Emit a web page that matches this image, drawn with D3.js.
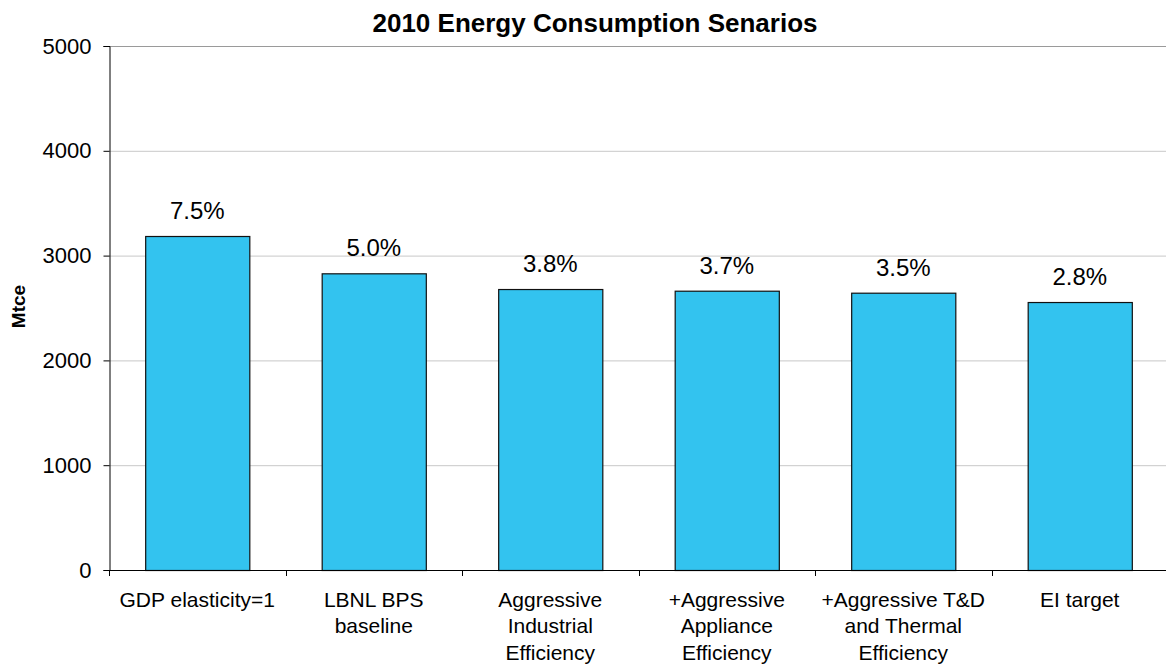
<!DOCTYPE html>
<html>
<head>
<meta charset="utf-8">
<script src="https://cdn.jsdelivr.net/npm/d3@7/dist/d3.min.js"></script>
<style>
  html, body { margin: 0; padding: 0; background: #fff; }
  svg { display: block; font-family: "Liberation Sans", Arial, sans-serif; }
</style>
</head>
<body>
<svg id="chart" width="1166" height="665"></svg>
<script>
const title = "2010 Energy Consumption Senarios";
const yLabel = "Mtce";
const categories = [
  "GDP elasticity=1",
  "LBNL BPS\nbaseline",
  "Aggressive\nIndustrial\nEfficiency",
  "+Aggressive\nAppliance\nEfficiency",
  "+Aggressive T&D\nand Thermal\nEfficiency",
  "EI target"
];
const values = [3187, 2831, 2681, 2665, 2646, 2557];
const growthLabels = ["7.5%", "5.0%", "3.8%", "3.7%", "3.5%", "2.8%"];
const yTicks = [0, 1000, 2000, 3000, 4000, 5000];

(function () {
const svg = d3.select("#chart");
const pLeft = 109, pRight = 1168, pTop = 46, pBottom = 570;

const x = d3.scaleBand().domain(categories).range([pLeft, pRight])
  .paddingInner(0.41).paddingOuter(0.205);
const y = d3.scaleLinear().domain([0, 5000]).range([pBottom, pTop]);
const step = x.step();

// gridlines
svg.append("g").selectAll("line").data(yTicks.filter(d => d > 0)).join("line")
  .attr("x1", pLeft).attr("x2", pRight)
  .attr("y1", d => y(d) + 0.5).attr("y2", d => y(d) + 0.5)
  .attr("stroke", d => d === 5000 ? "#9a9a9a" : "#c8c8c8")
  .attr("stroke-width", 1);

// bars
svg.append("g").selectAll("rect").data(categories).join("rect")
  .attr("x", d => x(d) + 0.5)
  .attr("y", (d, i) => y(values[i]) + 0.5)
  .attr("width", x.bandwidth())
  .attr("height", (d, i) => y(0) - y(values[i]))
  .attr("fill", "#33c3ef")
  .attr("stroke", "#111")
  .attr("stroke-width", 1.2);

// value labels
svg.append("g").selectAll("text").data(categories).join("text")
  .attr("x", d => x(d) + x.bandwidth() / 2)
  .attr("y", (d, i) => y(values[i]) - 17)
  .attr("text-anchor", "middle")
  .attr("font-size", 24)
  .attr("fill", "#000")
  .text((d, i) => growthLabels[i]);

// y axis
const yAxis = d3.axisLeft(y).tickValues(yTicks).tickSize(6).tickPadding(12).tickFormat(d3.format("d"));
const gy = svg.append("g").attr("transform", `translate(${pLeft + 0.5},0)`).call(yAxis);
gy.select(".domain").attr("stroke", "#000");
gy.selectAll(".tick line").attr("stroke", "#000");
gy.selectAll(".tick text").attr("font-size", 22).attr("fill", "#000")
  .attr("font-family", "'Liberation Sans', Arial, sans-serif");

// x axis line
svg.append("line").attr("x1", pLeft).attr("x2", pRight)
  .attr("y1", pBottom + 0.5).attr("y2", pBottom + 0.5)
  .attr("stroke", "#000").attr("stroke-width", 1);

// x ticks at category boundaries
const boundaries = categories.map(d => x(d) + x.bandwidth() / 2 - step / 2);
svg.append("g").selectAll("line").data(boundaries).join("line")
  .attr("x1", d => Math.round(d) + 0.5).attr("x2", d => Math.round(d) + 0.5)
  .attr("y1", pBottom).attr("y2", pBottom + 6)
  .attr("stroke", "#000");

// x labels
const xl = svg.append("g").selectAll("text").data(categories).join("text")
  .attr("x", d => x(d) + x.bandwidth() / 2)
  .attr("y", 606.7)
  .attr("text-anchor", "middle")
  .attr("font-size", 21)
  .attr("fill", "#000");
xl.each(function(d) {
  const t = d3.select(this);
  const cx = x(d) + x.bandwidth() / 2;
  d.split("\n").forEach((line, i) => {
    t.append("tspan").attr("x", cx).attr("dy", i === 0 ? 0 : 26.7).text(line);
  });
});

// title
svg.append("text").attr("x", 595).attr("y", 31.5)
  .attr("text-anchor", "middle").attr("font-size", 26).attr("font-weight", "bold")
  .text(title);

// y label
svg.append("text").attr("transform", "translate(25,306.5) rotate(-90)")
  .attr("text-anchor", "middle").attr("font-size", 19).attr("font-weight", "bold")
  .text(yLabel);
})();
</script>
</body>
</html>
